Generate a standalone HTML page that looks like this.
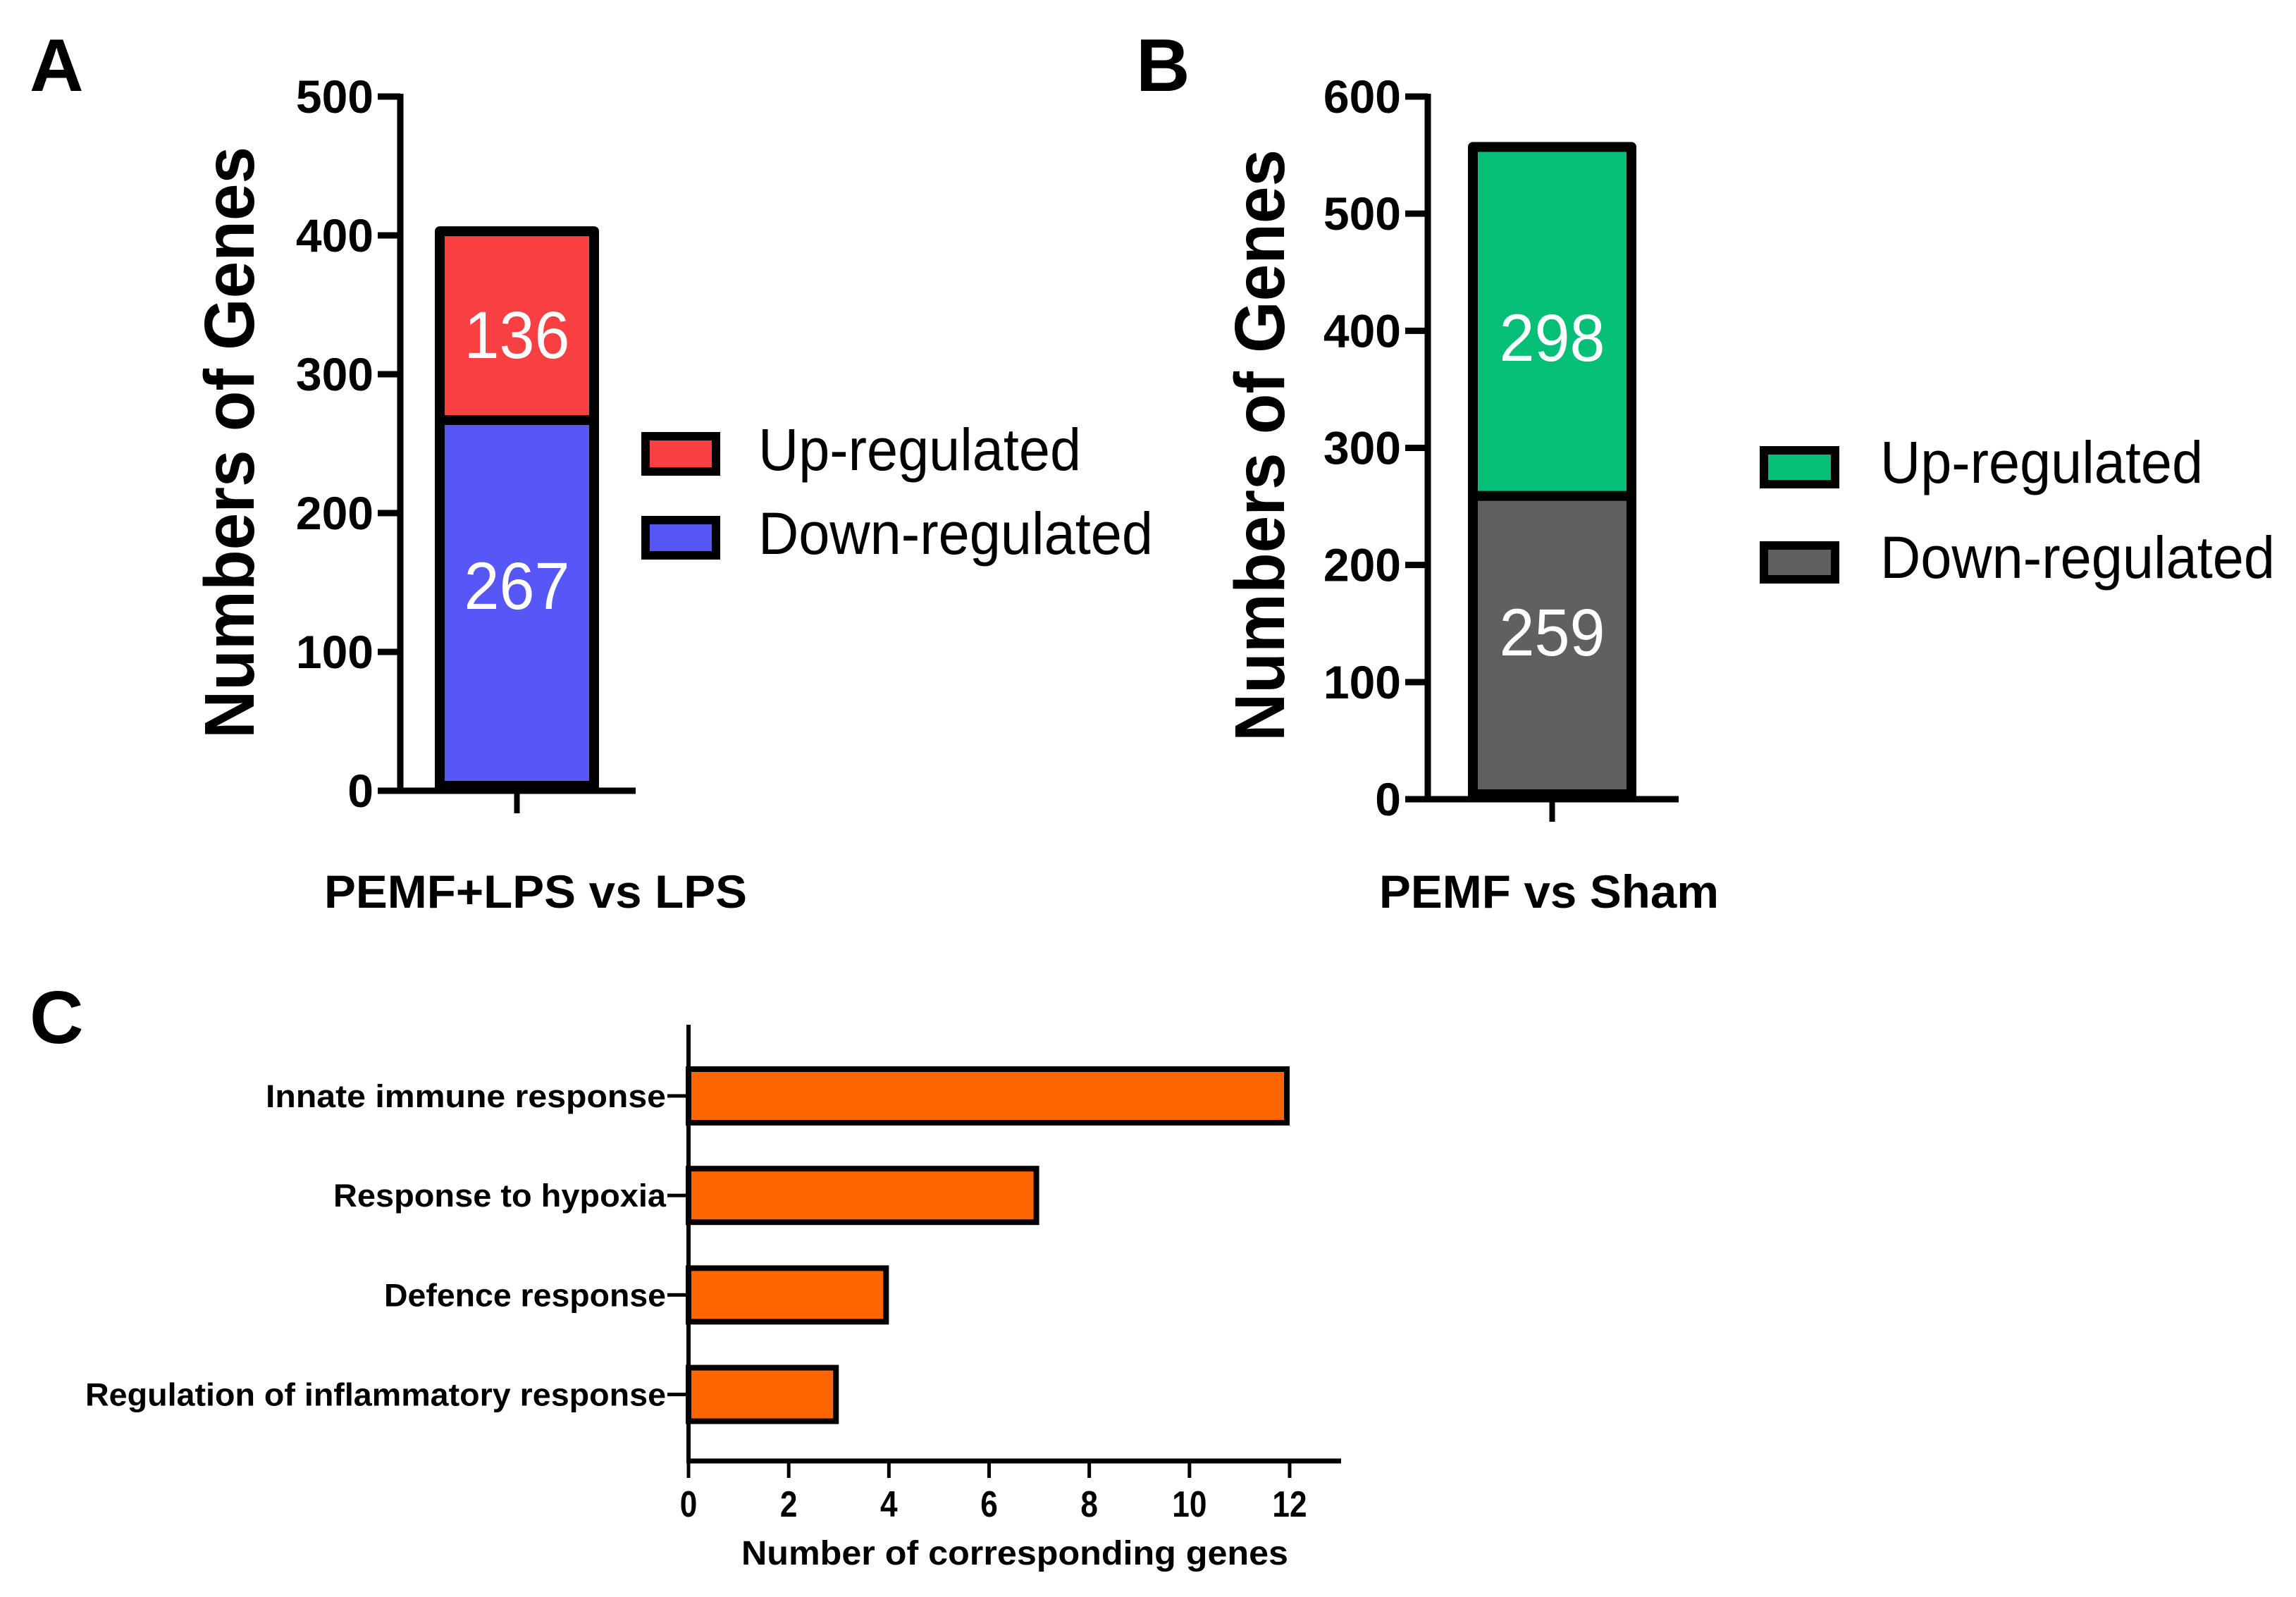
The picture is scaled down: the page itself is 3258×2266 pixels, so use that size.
<!DOCTYPE html>
<html><head><meta charset="utf-8"><style>
html,body{margin:0;padding:0;background:#fff;}
svg{display:block;font-family:"Liberation Sans",Arial,sans-serif;}
</style></head><body>
<svg id="fig" width="3258" height="2266" viewBox="0 0 3258 2266" xmlns="http://www.w3.org/2000/svg">
<text x="42" y="129" font-size="106" font-weight="bold">A</text>
<text x="1612" y="129" font-size="106" font-weight="bold">B</text>
<text x="42" y="1480" font-size="106" font-weight="bold">C</text>
<g id="pa"></g>
<g id="pb"></g>
<g id="pc"></g>
</svg>
<script>
// Panel A data
const aCategory = "PEMF+LPS vs LPS";
const aDown = 267;
const aUp = 136;
const aTicks = [0,100,200,300,400,500];
// Panel B data
const bCategory = "PEMF vs Sham";
const bDown = 259;
const bUp = 298;
const bTicks = [0,100,200,300,400,500,600];
// Panel C data
const cCategories = ["Innate immune response","Response to hypoxia","Defence response","Regulation of inflammatory response"];
const cValues = [12,7,4,3];
const cTicks = [0,2,4,6,8,10,12];
const legendLabels = ["Up-regulated","Down-regulated"];

const NS="http://www.w3.org/2000/svg";
function mk(parent,tag,attrs,text){const e=document.createElementNS(NS,tag);for(const k in attrs)e.setAttribute(k,attrs[k]);if(text!==undefined)e.textContent=text;parent.appendChild(e);return e;}

function stacked(g,o){
  const y=v=>o.y0-(v-0)*(o.y0-o.yTop)/o.max;
  let e=mk(g,'line',{x1:o.ax,y1:o.yTop-4,x2:o.ax,y2:o.y0+4,stroke:'#000','stroke-width':9});
  
  
  o.ticks.forEach(t=>{
    let l=mk(g,'line',{x1:o.ax-32,y1:y(t),x2:o.ax,y2:y(t),stroke:'#000','stroke-width':9});
    
    
    let tx=mk(g,'text',{x:o.ax-38,y:y(t)+23,'font-size':66,'font-weight':'bold','text-anchor':'end'},String(t));
    
    
  });
  e=mk(g,'line',{x1:o.ax-4,y1:o.y0,x2:o.axEnd,y2:o.y0,stroke:'#000','stroke-width':9});
  
  
  const cx=(o.bx0+o.bx1)/2;
  e=mk(g,'line',{x1:cx,y1:o.y0,x2:cx,y2:o.y0+32,stroke:'#000','stroke-width':8});
  
  
  const sw=14;
  let r=mk(g,'rect',{x:o.bx0+sw/2,y:y(o.down),width:o.bx1-o.bx0-sw,height:o.y0-y(o.down)-sw/2,fill:o.cDown,stroke:'#000','stroke-width':sw});
  
  
  r=mk(g,'rect',{x:o.bx0+sw/2,y:y(o.down+o.up),width:o.bx1-o.bx0-sw,height:y(o.down)-y(o.down+o.up),fill:o.cUp,stroke:'#000','stroke-width':sw,'stroke-linejoin':'round'});
  
  
  let t=mk(g,'text',{x:cx,y:(y(o.down)+y(o.down+o.up))/2+34+o.upOff,'font-size':95,fill:'#fff','text-anchor':'middle',textLength:150,lengthAdjust:'spacingAndGlyphs'},String(o.up));
  
  
  t=mk(g,'text',{x:cx,y:(y(0)+y(o.down))/2+34+o.downOff,'font-size':95,fill:'#fff','text-anchor':'middle',textLength:150,lengthAdjust:'spacingAndGlyphs'},String(o.down));
  
  
  t=mk(g,'text',{x:0,y:0,'font-size':100,'font-weight':'bold','text-anchor':'middle',transform:`translate(${o.titleX},${o.titleY}) rotate(-90)`,textLength:840,lengthAdjust:'spacingAndGlyphs'},'Numbers of Genes');
  
  
  t=mk(g,'text',{x:o.xlabX,y:1288,'font-size':66,'font-weight':'bold','text-anchor':'middle',textLength:o.xlabW,lengthAdjust:'spacingAndGlyphs'},o.cat);
  
  
  const items=[[legendLabels[0],o.cUp,o.legUp],[legendLabels[1],o.cDown,o.legDown]];
  items.forEach((it,i)=>{
    let b=mk(g,'rect',{x:o.legX+6,y:it[2]+6,width:o.legW-12,height:o.legH-12,fill:it[1],stroke:'#000','stroke-width':12});
    
    
    let tt=mk(g,'text',{x:o.legTX,y:it[2]+o.legH-8,'font-size':84,textLength:i==0?458:560,lengthAdjust:'spacingAndGlyphs'},it[0]);
    
    
  });
}

stacked(document.getElementById('pa'),{ax:568,axEnd:902,y0:1122,yTop:137,max:500,ticks:aTicks,bx0:617,bx1:850,down:aDown,up:aUp,cDown:'#5757F8',cUp:'#F83F41',titleX:360,titleY:628,cat:aCategory,xlabX:760,xlabW:600,legX:910,legW:112,legH:62,legUp:613,legDown:732,legTX:1076,upOff:12,downOff:-29});
stacked(document.getElementById('pb'),{ax:2026,axEnd:2382,y0:1134,yTop:137,max:600,ticks:bTicks,bx0:2083,bx1:2322,down:bDown,up:bUp,cDown:'#606060',cUp:'#05BF78',titleX:1822,titleY:632,cat:bCategory,xlabX:2198,xlabW:482,legX:2497,legW:113,legH:60,legUp:633,legDown:768,legTX:2668,upOff:22,downOff:-23});

(function(){
  const g=document.getElementById('pc');
  const x0=977, unit=(1830-977)/12, yAxis=2073;
  const x=v=>x0+v*unit;
  const centers0=1555, step=141.2, bh=84;
  let e=mk(g,'line',{x1:x0,y1:1454,x2:x0,y2:yAxis+3,stroke:'#000','stroke-width':6});
  
  
  e=mk(g,'line',{x1:x0-3,y1:yAxis,x2:1903,y2:yAxis,stroke:'#000','stroke-width':7});
  
  
  cTicks.forEach(t=>{
    let l=mk(g,'line',{x1:x(t),y1:yAxis,x2:x(t),y2:yAxis+24,stroke:'#000','stroke-width':5});
    
    
    let tx=mk(g,'text',{x:x(t),y:2152,'font-size':52,'font-weight':'bold','text-anchor':'middle',transform:`translate(${x(t)},0) scale(0.85,1) translate(${-x(t)},0)`},String(t));
    
    
  });
  cCategories.forEach((c,i)=>{
    const cy=centers0+i*step;
    let r=mk(g,'rect',{x:x0,y:cy-bh/2+4,width:x(cValues[i])-x0-4,height:bh-8,fill:'#FF6600',stroke:'#000','stroke-width':8});
    
    
    let l=mk(g,'line',{x1:x0-30,y1:cy,x2:x0,y2:cy,stroke:'#000','stroke-width':5});
    
    
    const w=[568,472,400,824][i];
    let t=mk(g,'text',{x:x0-32,y:cy+16,'font-size':45,'font-weight':'bold','text-anchor':'end',textLength:w,lengthAdjust:'spacingAndGlyphs'},c);
    
    
  });
  let t=mk(g,'text',{x:1440,y:2220,'font-size':48,'font-weight':'bold','text-anchor':'middle',textLength:776,lengthAdjust:'spacingAndGlyphs'},'Number of corresponding genes');
  
  
})();
</script>
</body></html>
